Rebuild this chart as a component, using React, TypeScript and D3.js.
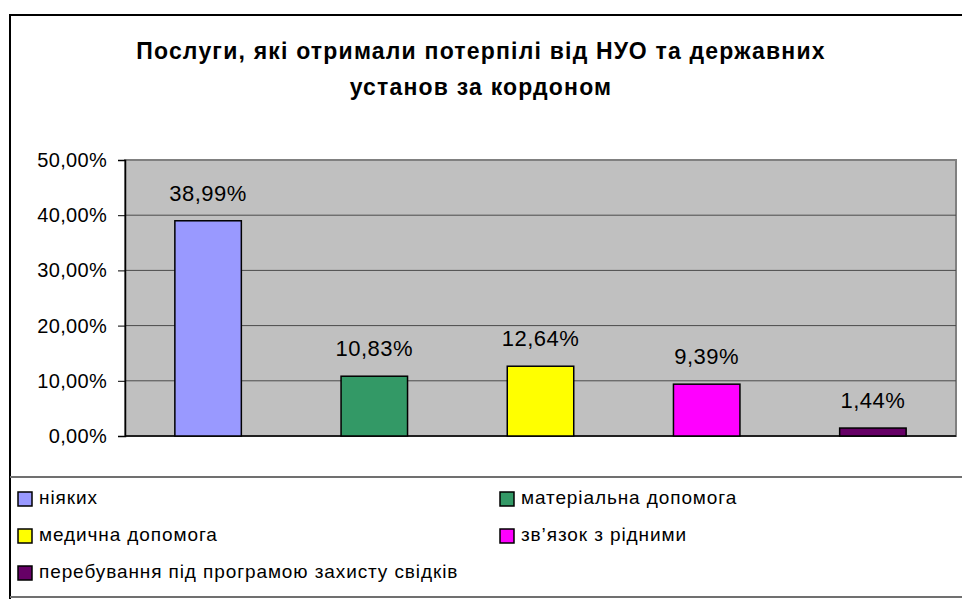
import React, { useEffect, useRef } from 'react';
import * as d3 from 'd3';

const categories = [
  'ніяких',
  'матеріальна допомога',
  'медична допомога',
  'зв’язок з рідними',
  'перебування під програмою захисту свідків',
];
const values = [38.99, 10.83, 12.64, 9.39, 1.44];
const colors = ['#9999FF', '#339966', '#FFFF00', '#FF00FF', '#660066'];
const yTicks = [0, 10, 20, 30, 40, 50];
const titleLines = ['Послуги, які отримали потерпілі від НУО та державних', 'установ за кордоном'];

const fmt = (v: number) => v.toFixed(2).replace('.', ',') + '%';

const App = () => {
  const svgRef = useRef<SVGSVGElement>(null);

  useEffect(() => {
    const svg = d3.select(svgRef.current);
    svg.selectAll('*').remove();
    const font = '"Liberation Sans", Arial, sans-serif';

    // outer frame
    svg.append('rect')
      .attr('x', 10).attr('y', 15).attr('width', 1000).attr('height', 700)
      .attr('fill', '#fff').attr('stroke', '#000').attr('stroke-width', 2);

    // title
    svg.append('g').selectAll('text')
      .data(titleLines)
      .enter().append('text')
      .attr('x', 481)
      .attr('y', (d, i) => 59 + i * 36)
      .attr('text-anchor', 'middle')
      .style('font-family', font)
      .style('font-size', '23px')
      .style('font-weight', 'bold')
      .style('letter-spacing', '1.2px')
      .text(d => d);

    const plot = { left: 125, right: 956, top: 160, bottom: 436 };

    const x = d3.scaleBand<string>()
      .domain(categories)
      .range([plot.left, plot.right])
      .paddingInner(0.6)
      .paddingOuter(0.3);

    const y = d3.scaleLinear()
      .domain([0, 50])
      .range([plot.bottom, plot.top]);

    svg.append('rect')
      .attr('x', plot.left).attr('y', plot.top)
      .attr('width', plot.right - plot.left).attr('height', plot.bottom - plot.top)
      .attr('fill', '#C0C0C0').attr('stroke', '#808080').attr('stroke-width', 2);

    // gridlines
    svg.append('g').selectAll('line')
      .data(yTicks.filter(t => t > 0 && t < 50))
      .enter().append('line')
      .attr('x1', plot.left).attr('x2', plot.right)
      .attr('y1', d => y(d)).attr('y2', d => y(d))
      .attr('stroke', '#4a4a4a').attr('stroke-width', 1);

    // y axis
    const yAxis = svg.append('g')
      .attr('transform', `translate(${plot.left},0)`)
      .call(d3.axisLeft(y).tickValues(yTicks).tickSize(7).tickPadding(11).tickFormat(d => fmt(+d)));
    yAxis.select('.domain').attr('stroke', '#000').attr('stroke-width', 1.5);
    yAxis.selectAll('text')
      .style('font-family', font)
      .style('font-size', '20px')
      .style('letter-spacing', '0.3px')
      .attr('fill', '#000');

    // x axis line
    svg.append('line')
      .attr('x1', plot.left).attr('x2', plot.right)
      .attr('y1', plot.bottom).attr('y2', plot.bottom)
      .attr('stroke', '#000').attr('stroke-width', 1.5);

    // bars
    svg.append('g').selectAll('rect')
      .data(values)
      .enter().append('rect')
      .attr('x', (d, i) => x(categories[i])!)
      .attr('y', d => y(d))
      .attr('width', x.bandwidth())
      .attr('height', d => plot.bottom - y(d))
      .attr('fill', (d, i) => colors[i])
      .attr('stroke', '#000').attr('stroke-width', 1.5);

    // labels
    svg.append('g').selectAll('text')
      .data(values)
      .enter().append('text')
      .attr('x', (d, i) => x(categories[i])! + x.bandwidth() / 2)
      .attr('y', d => y(d) - 20)
      .attr('text-anchor', 'middle')
      .style('font-family', font)
      .style('font-size', '22px')
      .style('letter-spacing', '0.5px')
      .text(d => fmt(d));

    // legend
    const legendTop = 477;
    svg.append('line')
      .attr('x1', 10).attr('x2', 962).attr('y1', legendTop).attr('y2', legendTop)
      .attr('stroke', '#707070').attr('stroke-width', 2);
    svg.append('line')
      .attr('x1', 10).attr('x2', 962).attr('y1', 597).attr('y2', 597)
      .attr('stroke', '#707070').attr('stroke-width', 2);

    const item = svg.append('g').selectAll('g')
      .data(categories)
      .enter().append('g')
      .attr('transform', (d, i) => `translate(${i % 2 === 0 ? 18 : 500},${504 + Math.floor(i / 2) * 37})`);
    item.append('rect')
      .attr('x', 0).attr('y', -12).attr('width', 14).attr('height', 14)
      .attr('fill', (d, i) => colors[i])
      .attr('stroke', '#000').attr('stroke-width', 1.5);
    item.append('text')
      .attr('x', 21).attr('y', 0)
      .style('font-family', font)
      .style('font-size', '19px')
      .style('letter-spacing', '0.9px')
      .text(d => d);
  }, []);

  return <svg ref={svgRef} width={962} height={599} style={{ position: 'absolute', left: 0, top: 0 }} />;
};

export default App;
